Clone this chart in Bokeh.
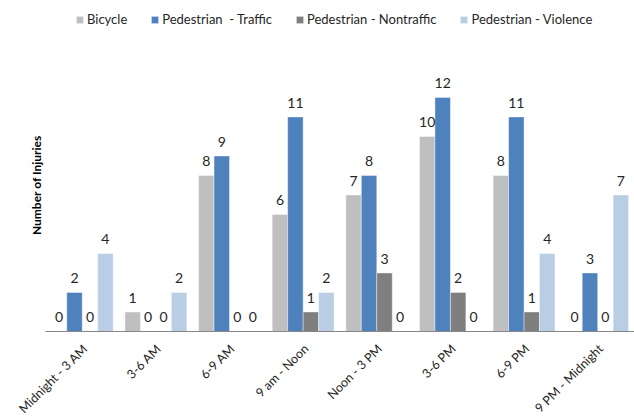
from bokeh.plotting import figure
from bokeh.models import ColumnDataSource, Legend, LegendItem, LabelSet, Label, Range1d
from bokeh.core.properties import value
from bokeh.transform import dodge
from bokeh.embed import file_html
from bokeh.resources import INLINE
import math

categories = ["Midnight - 3 AM", "3-6 AM", "6-9 AM", "9 am - Noon",
              "Noon - 3 PM", "3-6 PM", "6-9 PM", "9 PM - Midnight"]
series_names = ["Bicycle", "Pedestrian  - Traffic", "Pedestrian - Nontraffic", "Pedestrian - Violence"]
bicycle = [0, 1, 8, 6, 7, 10, 8, 0]
ped_traffic = [2, 0, 9, 11, 8, 12, 11, 3]
ped_nontraffic = [0, 0, 0, 1, 3, 2, 1, 0]
ped_violence = [4, 2, 0, 2, 0, 0, 4, 7]
colors = ["#BFBFBF", "#4F81BD", "#7F7F7F", "#B9CDE5"]
y_title = "Number of Injuries"

FONT = "Lato"
TXT = "#262626"

n = len(categories)
centers = [i + 0.5 for i in range(n)]
src = ColumnDataSource(dict(xc=centers, cat=categories, base=[0] * n,
                            s0=bicycle, s1=ped_traffic, s2=ped_nontraffic, s3=ped_violence))

p = figure(x_range=Range1d(-0.61, n), y_range=Range1d(-4.41, 16.97),
           width=634, height=417, output_backend="svg", toolbar_location=None,
           min_border_left=0, min_border_right=0, min_border_top=0, min_border_bottom=0)

bw = 0.21
offsets = [-1.5 * bw, -0.5 * bw, 0.5 * bw, 1.5 * bw]
items = []
for i, (name, col, off) in enumerate(zip(series_names, colors, offsets)):
    r = p.vbar(x=dodge("xc", off), top="s%d" % i, bottom=0, width=bw,
               source=src, fill_color=col, line_color="white", line_alpha=0.5, line_width=0.8)
    items.append(LegendItem(label=name, renderers=[r]))
    lbl = LabelSet(x=dodge("xc", off), y="s%d" % i, text="s%d" % i,
                   source=src, text_align="center", text_baseline="alphabetic",
                   y_offset=9, text_font=value(FONT), text_font_size=value("14px"),
                   text_color=TXT)
    p.add_layout(lbl)

# category axis baseline
p.segment(x0=[0], y0=[0], x1=[n], y1=[0], line_color="#868686", line_width=1)

# category labels (rotated 45 degrees)
p.add_layout(LabelSet(x="xc", y="base", text="cat", source=src, angle=math.pi / 4,
                      text_align="right", text_baseline="middle", x_offset=3, y_offset=-15,
                      text_font=value(FONT), text_font_size=value("12.5px"), text_color=TXT))

legend = Legend(items=items, orientation="horizontal", location=(75, 390),
                glyph_width=9, glyph_height=9, label_standoff=3, spacing=23,
                padding=0, margin=0, border_line_alpha=0, background_fill_alpha=0,
                label_text_font=FONT, label_text_font_size="13px", label_text_color=TXT,
                label_height=14)
p.add_layout(legend, "center")

p.add_layout(Label(x=-0.12, y=7.5, text=y_title, angle=math.pi / 2,
                   text_align="center", text_baseline="middle",
                   text_font=FONT, text_font_size="12px", text_font_style="bold",
                   text_color="#000000"))

p.xgrid.visible = False
p.ygrid.visible = False
p.outline_line_color = None
p.xaxis.visible = False
p.yaxis.visible = False

open("out.html", "w").write(file_html(p, INLINE))
